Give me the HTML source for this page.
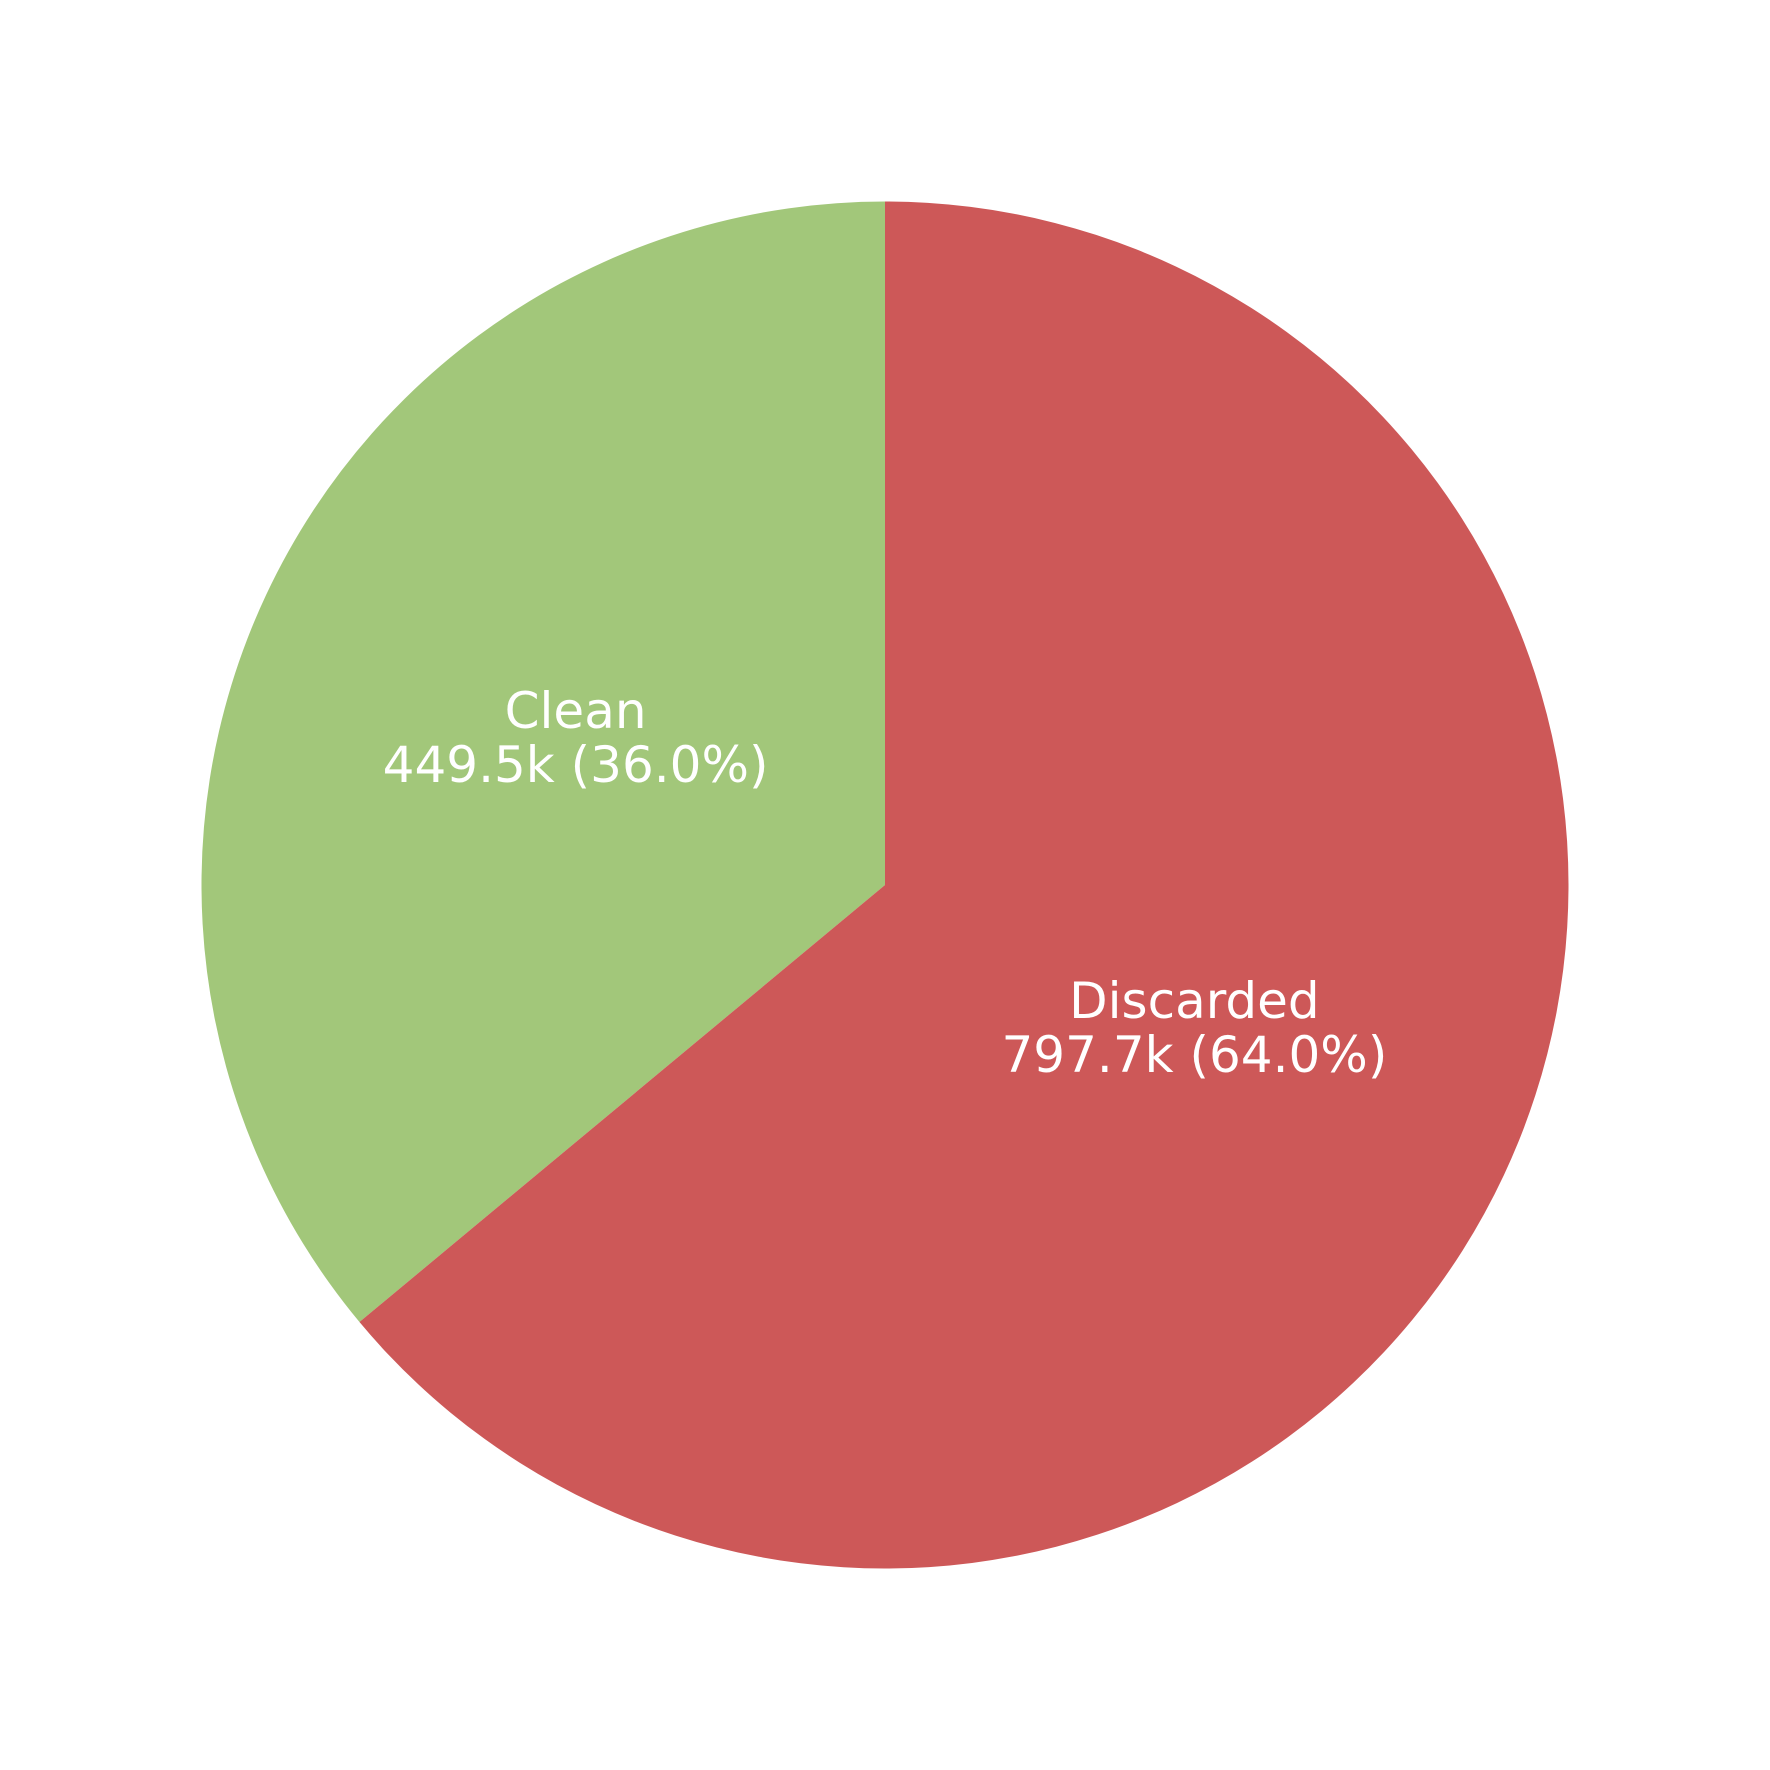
<!DOCTYPE html>
<html><head><meta charset="utf-8"><style>
html,body{margin:0;padding:0;background:#fff;}
svg{display:block;}
text{font-family:"DejaVu Sans","Liberation Sans",sans-serif;}
</style></head><body>
<svg id="chart" width="1770" height="1770" viewBox="0 0 1770 1770" xmlns="http://www.w3.org/2000/svg"></svg>
<script>
const categories = ["Clean", "Discarded"];
const values = [449.5, 797.7];
const valueLabels = ["449.5k", "797.7k"];
const colors = ["#a2c77a", "#cd5858"];

const svg = document.getElementById('chart');
const NS = "http://www.w3.org/2000/svg";
const cx = 885, cy = 885, R = 683.5;
const total = values.reduce((a,b)=>a+b,0);
let start = 90;
function pt(deg, r){ const a = deg*Math.PI/180; return [cx + r*Math.cos(a), cy - r*Math.sin(a)]; }
values.forEach((v,i)=>{
  const sweep = v/total*360;
  const end = start + sweep;
  const [x1,y1] = pt(start,R), [x2,y2] = pt(end,R);
  const large = sweep > 180 ? 1 : 0;
  const p = document.createElementNS(NS,'path');
  p.setAttribute('d', `M${cx},${cy} L${x1},${y1} A${R},${R} 0 ${large} 0 ${x2},${y2} Z`);
  p.setAttribute('fill', colors[i]);
  
  
  svg.appendChild(p);
  const mid = start + sweep/2;
  const [lx, ly] = pt(mid, R*0.5);
  const t = document.createElementNS(NS,'text');
  t.setAttribute('x', lx); t.setAttribute('y', ly - 12);
  t.setAttribute('text-anchor','middle');
  t.setAttribute('fill','#fff');
  t.setAttribute('font-size','50');
  
  
  const s1 = document.createElementNS(NS,'tspan');
  s1.setAttribute('x', lx); s1.textContent = categories[i];
  const s2 = document.createElementNS(NS,'tspan');
  s2.setAttribute('x', lx); s2.setAttribute('dy','54');
  s2.textContent = valueLabels[i] + ' (' + (v/total*100).toFixed(1) + '%)';
  t.appendChild(s1); t.appendChild(s2);
  svg.appendChild(t);
  start = end;
});
</script>
</body></html>
